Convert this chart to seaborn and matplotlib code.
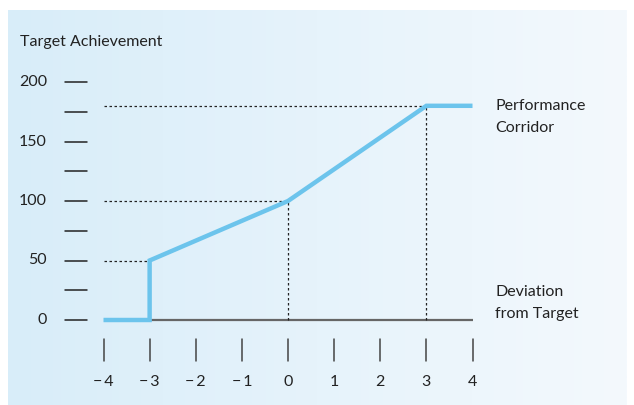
"""Performance corridor chart: target achievement vs deviation from target."""
import numpy as np
import pandas as pd
import seaborn as sns
import matplotlib.pyplot as plt
from matplotlib.colors import LinearSegmentedColormap

sns.set_style("white")
plt.rcParams['font.family'] = ['Lato', 'DejaVu Sans']

# Data
deviation = [-4, -3, -3, 0, 3, 4]
achievement = [0, 0, 50, 100, 180, 180]
x_ticks = [-4, -3, -2, -1, 0, 1, 2, 3, 4]
y_ticks = [0, 25, 50, 75, 100, 125, 150, 175, 200]
y_labels = {0: "0", 50: "50", 100: "100", 150: "150", 200: "200"}
guide_points = [(-3, 50), (0, 100), (3, 180)]

df = pd.DataFrame({"Deviation": deviation, "Achievement": achievement})

fig = plt.figure(figsize=(6.34, 4.05), dpi=100)

# Gradient panel background
bg = fig.add_axes([8 / 634, 0, 619 / 634, 395 / 405])
cmap = LinearSegmentedColormap.from_list("panel", ["#d8edf9", "#f4f9fd"])
bg.imshow(np.linspace(0, 1, 256).reshape(1, -1), aspect="auto", cmap=cmap,
          extent=[0, 1, 0, 1])
bg.axis("off")

# Main axes spans whole figure; limits chosen so the data region sits in place
ax = fig.add_axes([0, 0, 1, 1], facecolor="none")
px_x = 46.125
px_y = 1.19
ax.set_xlim(-288 / px_x, (634 - 288) / px_x)
ax.set_ylim((320 - 405) / px_y, 320 / px_y)
ax.axis("off")

# Baseline
ax.hlines(0, -4, 4, color="#666666", lw=1.6, zorder=2)

# Dotted guides
for gx, gy in guide_points:
    ax.hlines(gy, -4, gx, color="#222222", lw=0.9, linestyles=(0, (2, 2)), zorder=2)
    if gx > -3:
        ax.vlines(gx, 0, gy, color="#222222", lw=0.9, linestyles=(0, (2, 2)), zorder=2)

sns.lineplot(data=df, x="Deviation", y="Achievement", ax=ax, sort=False,
             estimator=None, errorbar=None, color="#6cc4ec", lw=3.2, zorder=3,
             solid_capstyle="butt", solid_joinstyle="miter")

# Detached tick marks
fs = 11.5
tick_y_x0, tick_y_x1 = (65 - 288) / px_x, (87 - 288) / px_x
for t in y_ticks:
    ax.plot([tick_y_x0, tick_y_x1], [t, t], color="#222222", lw=1.1)
    if t in y_labels:
        ax.text((47 - 288) / px_x, t, y_labels[t], ha="right", va="center",
                fontsize=fs, color="#222222")

tick_x_y0, tick_x_y1 = (320 - 339) / px_y, (320 - 361) / px_y
for t in x_ticks:
    ax.plot([t, t], [tick_x_y0, tick_x_y1], color="#444444", lw=1.1)
    ax.text(t, (320 - 382) / px_y, str(t).replace("-", "\u2212\u2009"),
            ha="center", va="center", fontsize=fs, color="#222222")

ax.text((20 - 288) / px_x, (320 - 42) / px_y, "Target Achievement",
        ha="left", va="center", fontsize=fs, color="#222222")
ax.text((495 - 288) / px_x, (320 - 99) / px_y, "Performance\nCorridor",
        ha="left", va="top", fontsize=fs, color="#222222", linespacing=1.72)
ax.text((495 - 288) / px_x, (320 - 285) / px_y, "Deviation\nfrom Target",
        ha="left", va="top", fontsize=fs, color="#222222", linespacing=1.72)

fig.savefig("out.png", dpi=100)
plt.close(fig)
